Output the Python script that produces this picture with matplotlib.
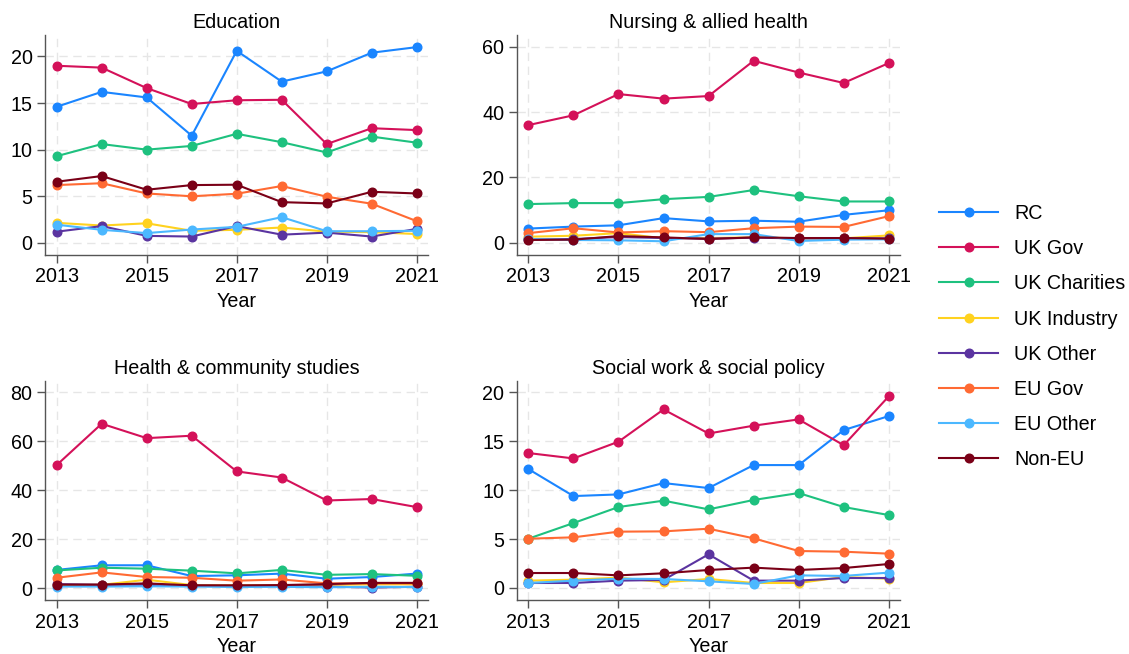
import matplotlib
matplotlib.use("Agg")
import matplotlib.pyplot as plt
from matplotlib.lines import Line2D

plt.rcParams['font.family'] = ['Liberation Sans', 'DejaVu Sans']

years = [2013, 2014, 2015, 2016, 2017, 2018, 2019, 2020, 2021]
series_names = ["RC", "UK Gov", "UK Charities", "UK Industry", "UK Other",
                "EU Gov", "EU Other", "Non-EU"]
colors = ["#1a85ff", "#d41159", "#1ec17f", "#ffd21f", "#5b34a0",
          "#ff6a33", "#4cb8ff", "#7a0017"]

panel_titles = ["Education", "Nursing & allied health",
                "Health & community studies", "Social work & social policy"]

# Education
edu_rc = [14.6, 16.2, 15.6, 11.5, 20.6, 17.3, 18.4, 20.4, 21.0]
edu_ukgov = [19.0, 18.8, 16.6, 14.9, 15.3, 15.35, 10.6, 12.3, 12.1]
edu_ukchar = [9.3, 10.6, 10.0, 10.4, 11.7, 10.8, 9.7, 11.4, 10.75]
edu_ukind = [2.15, 1.86, 2.1, 1.3, 1.4, 1.65, 1.2, 1.15, 0.95]
edu_ukoth = [1.2, 1.8, 0.75, 0.68, 1.8, 0.88, 1.1, 0.68, 1.5]
edu_eugov = [6.2, 6.4, 5.3, 5.0, 5.27, 6.1, 4.95, 4.2, 2.33]
edu_euoth = [1.95, 1.4, 1.05, 1.43, 1.72, 2.76, 1.25, 1.25, 1.3]
edu_noneu = [6.56, 7.17, 5.7, 6.2, 6.24, 4.37, 4.23, 5.48, 5.3]

# Nursing & allied health
nur_rc = [4.3, 4.9, 5.3, 7.5, 6.5, 6.7, 6.4, 8.5, 9.9]
nur_ukgov = [36.0, 39.0, 45.5, 44.1, 44.9, 55.7, 52.1, 48.9, 55.0]
nur_ukchar = [11.8, 12.1, 12.1, 13.3, 14.0, 16.1, 14.2, 12.6, 12.6]
nur_ukind = [1.8, 2.1, 2.9, 1.3, 1.4, 1.6, 1.3, 1.3, 2.2]
nur_ukoth = [1.0, 1.1, 1.7, 1.4, 1.2, 1.5, 1.3, 1.3, 1.3]
nur_eugov = [2.9, 4.4, 3.1, 3.5, 3.2, 4.4, 4.9, 4.8, 8.1]
nur_euoth = [1.1, 0.8, 0.7, 0.4, 2.6, 2.6, 0.5, 0.9, 1.0]
nur_noneu = [0.8, 0.9, 2.0, 1.6, 1.1, 1.6, 1.4, 1.4, 1.2]

# Health & community studies
hea_rc = [7.4, 9.3, 9.3, 4.9, 5.2, 5.9, 3.8, 4.5, 5.9]
hea_ukgov = [50.3, 67.2, 61.3, 62.3, 47.7, 45.2, 35.8, 36.4, 33.1]
hea_ukchar = [7.2, 8.3, 7.9, 7.1, 6.0, 7.4, 5.4, 5.7, 5.0]
hea_ukind = [1.3, 1.3, 3.4, 1.2, 1.1, 1.2, 1.3, 1.5, 1.5]
hea_ukoth = [1.6, 1.3, 1.3, 1.0, 0.8, 0.8, 0.6, 0.2, 0.5]
hea_eugov = [4.2, 6.4, 4.5, 4.2, 3.0, 3.5, 1.9, 1.9, 1.9]
hea_euoth = [0.6, 0.6, 0.7, 0.6, 0.4, 0.5, 0.3, 0.5, 0.4]
hea_noneu = [1.4, 1.4, 1.9, 1.1, 1.1, 1.2, 1.6, 2.1, 2.1]

# Social work & social policy
soc_rc = [12.16, 9.4, 9.57, 10.73, 10.22, 12.57, 12.57, 16.15, 17.58]
soc_ukgov = [13.8, 13.25, 14.96, 18.26, 15.8, 16.6, 17.24, 14.6, 19.6]
soc_ukchar = [5.04, 6.64, 8.28, 8.93, 8.04, 9.0, 9.71, 8.28, 7.46]
soc_ukind = [0.75, 0.85, 1.06, 0.58, 0.92, 0.51, 0.51, 1.12, 0.95]
soc_ukoth = [0.51, 0.51, 0.75, 0.82, 3.44, 0.75, 0.75, 1.02, 1.02]
soc_eugov = [5.04, 5.18, 5.76, 5.79, 6.06, 5.08, 3.78, 3.71, 3.51]
soc_euoth = [0.51, 0.75, 0.95, 0.92, 0.68, 0.41, 1.29, 1.23, 1.57]
soc_noneu = [1.53, 1.53, 1.29, 1.5, 1.84, 2.08, 1.84, 2.04, 2.45]

panels = [
    [edu_rc, edu_ukgov, edu_ukchar, edu_ukind, edu_ukoth, edu_eugov, edu_euoth, edu_noneu],
    [nur_rc, nur_ukgov, nur_ukchar, nur_ukind, nur_ukoth, nur_eugov, nur_euoth, nur_noneu],
    [hea_rc, hea_ukgov, hea_ukchar, hea_ukind, hea_ukoth, hea_eugov, hea_euoth, hea_noneu],
    [soc_rc, soc_ukgov, soc_ukchar, soc_ukind, soc_ukoth, soc_eugov, soc_euoth, soc_noneu],
]
yticks = [[0, 5, 10, 15, 20], [0, 20, 40, 60], [0, 20, 40, 60, 80], [0, 5, 10, 15, 20]]
ylims = [(-1.3, 22.3), (-3.8, 63.6), (-4.9, 84.8), (-1.23, 21.2)]
xticks = [2013, 2015, 2017, 2019, 2021]

W, H = 1129, 654
fig = plt.figure(figsize=(W / 100, H / 100), dpi=100)

boxes = [(45, 35, 428, 255), (516.7, 35, 900, 255),
         (45, 380.7, 428, 600), (516.7, 380.7, 900, 600)]

FS = 14.2
spine_c = "#555555"
for i, (l, t, r, b) in enumerate(boxes):
    ax = fig.add_axes([l / W, 1 - b / H, (r - l) / W, (b - t) / H])
    for j, vals in enumerate(panels[i]):
        ax.plot(years, vals, color=colors[j], lw=1.5, marker='o', ms=6.2,
                zorder=3, label=series_names[j])
    ax.set_xlim(2012.74, 2021.25)
    ax.set_ylim(*ylims[i])
    ax.set_xticks(xticks)
    ax.set_yticks(yticks[i])
    ax.grid(True, color="#e6e6e6", linestyle=(0, (6, 4)), lw=1.0, zorder=0)
    for s in ["top", "right"]:
        ax.spines[s].set_visible(False)
    for s in ["left", "bottom"]:
        ax.spines[s].set_color(spine_c)
        ax.spines[s].set_linewidth(1.0)
    ax.tick_params(axis='both', labelsize=FS, color=spine_c, length=6, width=1.0,
                   direction='out', pad=3)
    ax.set_title(panel_titles[i], fontsize=FS, pad=5)
    ax.set_xlabel("Year", fontsize=FS, labelpad=4)

handles = [Line2D([0], [0], color=c, lw=1.5, marker='o', ms=6.2) for c in colors]
fig.legend(handles, series_names, loc='upper left',
           bbox_to_anchor=(939 / W, 1 - 204 / H), frameon=False, fontsize=FS,
           handlelength=3.0, handletextpad=0.8, labelspacing=0.82,
           borderpad=0, borderaxespad=0)

fig.savefig("out.png", dpi=100)
